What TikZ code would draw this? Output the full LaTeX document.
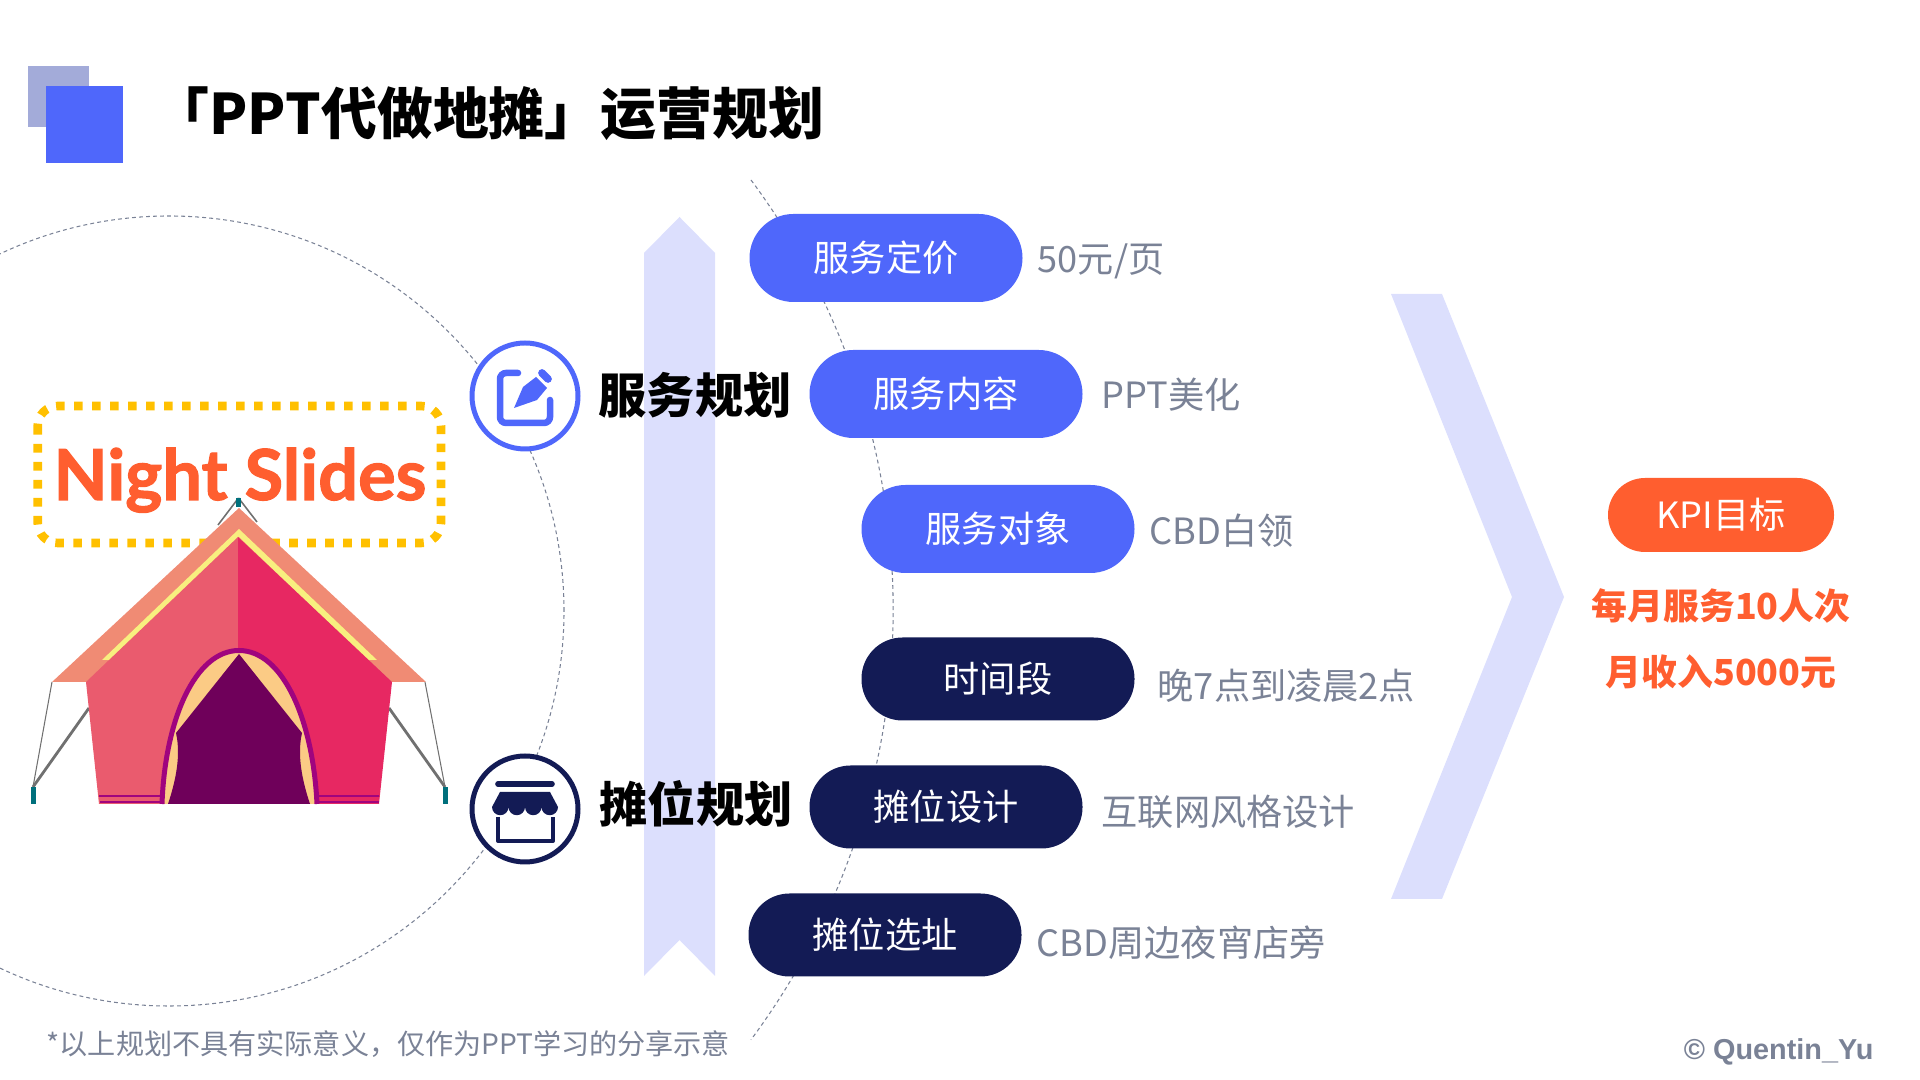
\documentclass[tikz,border=0pt]{standalone}
\usepackage{fontspec}
\usepackage{xcolor}
\setmainfont{Noto Sans CJK SC}
\newfontfamily\cjkheavy{Noto Sans CJK SC Black}
\newfontfamily\nightfont[FakeBold=1.6]{Lato Bold}
\newfontfamily\signfont{Liberation Sans}
\definecolor{planblue}{HTML}{4F67FB}
\definecolor{planpale}{HTML}{A3ABD9}
\definecolor{planband}{HTML}{DCDFFD}
\definecolor{plannavy}{HTML}{131B55}
\definecolor{planorange}{HTML}{FF5E2F}
\definecolor{plangray}{HTML}{7A8296}
\definecolor{planrope}{HTML}{707070}
\definecolor{planteal}{HTML}{00707C}
\definecolor{framegold}{HTML}{FFC000}
\definecolor{roofsalmon}{HTML}{F08B74}
\definecolor{roofyellow}{HTML}{F8EF7F}
\definecolor{tentleft}{HTML}{EA5B6E}
\definecolor{tentright}{HTML}{E72862}
\definecolor{doorrim}{HTML}{A0047E}
\definecolor{doorflap}{HTML}{FBCB85}
\definecolor{doordark}{HTML}{6F005A}
\tikzset{
  pill/.style={rounded corners=0.41cm,minimum width=2.73cm,inner sep=0pt,text=white,
               font=\fontsize{10.3}{12}\selectfont},
  bluepill/.style={pill,fill=planblue,minimum height=0.88cm,rounded corners=0.44cm},
  navypill/.style={pill,fill=plannavy,minimum height=0.83cm},
  lab/.style={anchor=west,inner sep=0pt,text=plangray,font=\fontsize{10.3}{12}\selectfont},
  headlab/.style={anchor=west,inner sep=0pt,font=\fontsize{13.7}{15}\cjkheavy},
  kpilab/.style={inner sep=0pt,text=planorange,font=\fontsize{10.2}{12}\bfseries},
  ring/.style={circle,fill=white,line width=1.42pt,minimum size=1.06cm,inner sep=0pt},
  guide/.style={draw=plangray,line width=0.3pt,dash pattern=on 1.1pt off 0.9pt},
  rope/.style={draw=planrope}
}
\begin{document}
\begin{tikzpicture}
\useasboundingbox (0,0) rectangle (19.2,10.8);
\clip (0,0) rectangle (19.2,10.8);

% title
\fill[planpale] (0.28,10.14) rectangle (0.89,9.53);
\fill[planblue] (0.46,9.94) rectangle (1.23,9.17);
\node[anchor=west,inner sep=0pt,font=\fontsize{15.9}{18}\cjkheavy] at (1.53,9.66) (title) {「PPT代做地摊」运营规划};

% guide circles
\draw[guide] (1.69,4.69) circle (3.95);
\draw[guide] (7.51,9.0) arc (36.6:-36.6:7.21);

% band and chevron
\fill[planband] (6.795,8.63) -- (7.15,8.27) -- (7.15,1.04) -- (6.795,1.40) -- (6.44,1.04) -- (6.44,8.27) -- cycle;
\fill[planband] (13.91,7.86) -- (14.42,7.86) -- (15.64,4.83) -- (14.42,1.81) -- (13.91,1.81) -- (15.12,4.83) -- cycle;

% tent ropes
\draw[rope,line width=0.3pt] (0.52,3.98) -- (0.33,2.93);
\draw[rope,line width=0.3pt] (4.25,3.98) -- (4.45,2.93);
\draw[rope,line width=0.8pt] (0.89,3.72) -- (0.33,2.93);
\draw[rope,line width=0.8pt] (3.89,3.72) -- (4.45,2.93);
\fill[planteal] (0.31,2.76) rectangle (0.355,2.93);
\fill[planteal] (4.43,2.76) rectangle (4.48,2.93);

% night slides frame
\draw[framegold,line width=2.45pt,dash pattern=on 2.45pt off 2.67pt,rounded corners=0.2cm]
  (0.377,6.74) rectangle (4.41,5.37);
\node[anchor=base,inner sep=0pt,text=planorange,font=\fontsize{20}{24}\nightfont] at (2.40,5.80) (night) {Night Slides};

% tent
\draw[rope,line width=0.45pt] (2.385,5.82) -- (2.18,5.55);
\draw[rope,line width=0.45pt] (2.385,5.82) -- (2.57,5.58);
\draw[planteal,line width=1.2pt] (2.385,5.82) -- (2.385,5.73);
\fill[roofsalmon] (2.39,5.72) -- (4.26,3.98) -- (0.52,3.98) -- cycle;
\fill[roofyellow] (2.39,5.51) -- (3.77,4.20) -- (3.68,4.20) -- (2.39,5.43) -- (1.10,4.20) -- (1.02,4.20) -- cycle;
\fill[tentleft] (2.38,5.43) -- (2.38,2.76) -- (0.99,2.76) -- (0.86,3.98) -- cycle;
\fill[tentright] (2.38,5.43) -- (3.92,3.98) -- (3.79,2.76) -- (2.38,2.76) -- cycle;
\draw[doorrim,line width=0.5pt] (0.99,2.84) -- (1.60,2.84) (3.19,2.84) -- (3.79,2.84);
\draw[doorrim,line width=0.5pt] (1.00,2.78) -- (1.60,2.78) (3.19,2.78) -- (3.79,2.78);
\draw[draw=doorrim,fill=doorflap,line width=1.42pt] (1.62,2.76) .. controls (1.65,3.6) and (1.95,4.295) .. (2.39,4.295) .. controls (2.83,4.295) and (3.13,3.6) .. (3.17,2.76);
\fill[doordark] (2.39,4.26) -- (3.02,3.47) .. controls (2.97,3.25) and (3.02,3.0) .. (3.10,2.76) -- (1.68,2.76) .. controls (1.76,3.0) and (1.81,3.25) .. (1.76,3.47) -- cycle;

% service plan
\node[ring,draw=planblue] at (5.25,6.84) (editring) {};
\draw[planblue,line width=1.85pt,line cap=round,rounded corners=0.06cm] (5.18,7.07) -- (5.00,7.07) -- (5.00,6.57) -- (5.50,6.57) -- (5.50,6.80);
\fill[planblue] (5.14,6.72) -- (5.23,6.93) -- (5.36,7.03) -- (5.47,6.92) -- (5.37,6.80) -- cycle;
\draw[planblue,line width=2.2pt,line cap=round] (5.42,7.07) -- (5.48,7.01);
\node[headlab] at (5.98,6.85) (servicehead) {服务规划};

\node[bluepill] at (8.86,8.22) (price) {服务定价};
\node[bluepill] at (9.46,6.86) (content) {服务内容};
\node[bluepill] at (9.98,5.51) (target) {服务对象};
\node[lab] at (10.37,8.19) (pricelab) {50元/页};
\node[lab] at (11.01,6.85) (contentlab) {PPT美化};
\node[lab] at (11.49,5.49) (targetlab) {CBD白领};

% stall plan
\node[ring,draw=plannavy] at (5.25,2.71) (storering) {};
\draw[plannavy,line width=1.6pt,line cap=round] (4.98,2.96) -- (5.52,2.96);
\fill[plannavy] (5.00,2.88) -- (5.50,2.88) -- (5.58,2.73) arc (0:-180:0.0825) arc (0:-180:0.0825) arc (0:-180:0.0825) arc (0:-180:0.0825) -- cycle;
\draw[plannavy,line width=1.15pt,line join=round] (4.98,2.63) -- (4.98,2.39) -- (5.53,2.39) -- (5.53,2.63);
\node[headlab] at (5.99,2.76) (stallhead) {摊位规划};

\node[navypill] at (9.98,4.01) (hours) {时间段};
\node[navypill] at (9.46,2.73) (design) {摊位设计};
\node[navypill] at (8.85,1.45) (place) {摊位选址};
\node[lab] at (11.57,3.94) (hourslab) {晚7点到凌晨2点};
\node[lab] at (11.01,2.68) (designlab) {互联网风格设计};
\node[lab] at (10.36,1.37) (placelab) {CBD周边夜宵店旁};

% kpi
\node[pill,fill=planorange,minimum width=2.26cm,minimum height=0.74cm,rounded corners=0.37cm] at (17.21,5.65) (kpi) {KPI目标};
\node[kpilab] at (17.21,4.74) (kpione) {每月服务10人次};
\node[kpilab] at (17.21,4.08) (kpitwo) {月收入5000元};

% notes
\node[anchor=west,inner sep=0pt,text=plangray,font=\fontsize{8}{9}\selectfont] at (0.46,0.36) (note) {*以上规划不具有实际意义，仅作为PPT学习的分享示意};
\node[anchor=east,inner sep=0pt,text=plangray,font=\fontsize{8.2}{10}\signfont\bfseries] at (18.74,0.28) (sign) {© Quentin\_Yu};
\end{tikzpicture}
\end{document}
